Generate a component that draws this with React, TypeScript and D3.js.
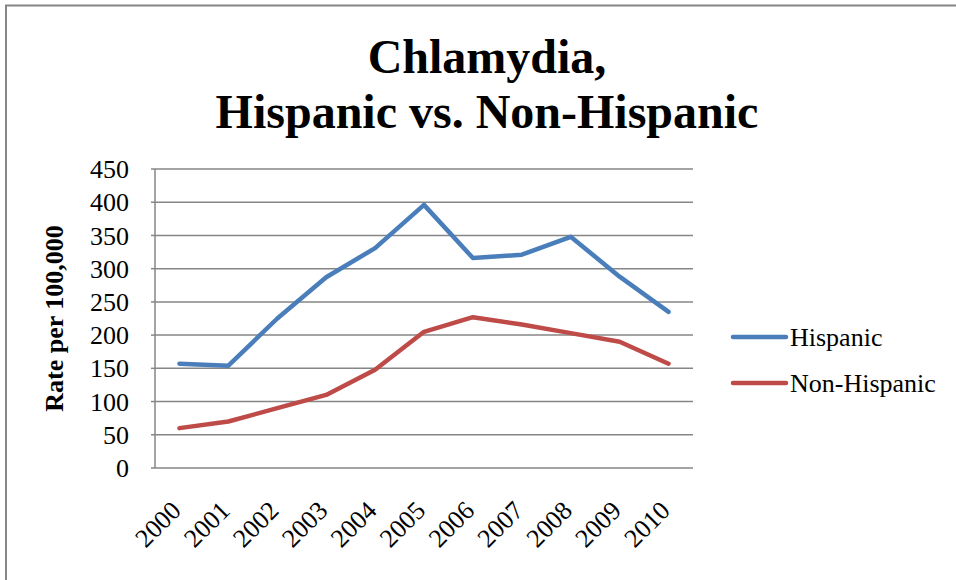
import React from "react";
import * as d3 from "d3";

const years = ["2000", "2001", "2002", "2003", "2004", "2005", "2006", "2007", "2008", "2009", "2010"];
const hispanic = [157, 154, 225, 287, 331, 396, 316, 321, 348, 288, 235];
const nonHispanic = [60, 70, 90, 110, 148, 205, 227, 216, 203, 190, 157];
const yTicks = [0, 50, 100, 150, 200, 250, 300, 350, 400, 450];

const seriesList = [
  { name: "Hispanic", values: hispanic, color: "#4A7EBB" },
  { name: "Non-Hispanic", values: nonHispanic, color: "#BE4B48" },
];

const W = 956;
const H = 580;
const plot = { left: 155, right: 693, top: 169, bottom: 468 };
const FONT = "'Liberation Serif', 'Times New Roman', serif";

export default function App() {
  const x = d3.scaleBand<string>().domain(years).range([plot.left, plot.right]);
  const y = d3.scaleLinear().domain([0, 450]).range([plot.bottom, plot.top]);
  const cx = (yr: string) => (x(yr) ?? 0) + x.bandwidth() / 2;

  const line = d3
    .line<number>()
    .x((_, i) => cx(years[i]))
    .y((d) => y(d));

  return (
    <svg
      width={W}
      height={H}
      style={{ position: "absolute", left: 0, top: 0, background: "#fff" }}
      fontFamily={FONT}
    >
      {/* chart frame */}
      <rect x={6} y={5.5} width={W + 20} height={H + 20} fill="none" stroke="#868686" strokeWidth={2} />

      {/* title */}
      <text x={487} y={73} textAnchor="middle" fontSize={48} fontWeight="bold">
        Chlamydia,
      </text>
      <text x={487} y={128} textAnchor="middle" fontSize={48} fontWeight="bold">
        Hispanic vs. Non-Hispanic
      </text>

      {/* gridlines and value labels */}
      {yTicks.map((t) => (
        <g key={t}>
          {t > 0 && (
            <line x1={plot.left} x2={plot.right} y1={y(t)} y2={y(t)} stroke="#868686" strokeWidth={1.5} />
          )}
          <line x1={plot.left - 4} x2={plot.left} y1={y(t)} y2={y(t)} stroke="#868686" strokeWidth={1.5} />
          <text x={129} y={y(t)} dy="0.35em" textAnchor="end" fontSize={26}>
            {t}
          </text>
        </g>
      ))}

      {/* axes */}
      <line x1={plot.left} x2={plot.left} y1={plot.top} y2={plot.bottom} stroke="#868686" strokeWidth={1.5} />
      <line x1={plot.left} x2={plot.right} y1={plot.bottom} y2={plot.bottom} stroke="#868686" strokeWidth={1.5} />

      {/* y axis title */}
      <text
        transform={`translate(63, ${(plot.top + plot.bottom) / 2}) rotate(-90)`}
        textAnchor="middle"
        fontSize={26}
        fontWeight="bold"
      >
        Rate per 100,000
      </text>

      {/* category labels */}
      {years.map((yr) => (
        <text
          key={yr}
          transform={`translate(${cx(yr) + 3}, 512) rotate(-45)`}
          textAnchor="end"
          fontSize={26}
        >
          {yr}
        </text>
      ))}

      {/* series lines */}
      {seriesList.map((s) => (
        <path
          key={s.name}
          d={line(s.values) ?? ""}
          fill="none"
          stroke={s.color}
          strokeWidth={4.5}
          strokeLinejoin="round"
          strokeLinecap="round"
        />
      ))}

      {/* legend */}
      {seriesList.map((s, i) => (
        <g key={s.name} transform={`translate(0, ${337 + i * 46})`}>
          <line x1={733} x2={786} y1={0} y2={0} stroke={s.color} strokeWidth={4.5} strokeLinecap="round" />
          <text x={790} y={0} dy="0.35em" fontSize={26}>
            {s.name}
          </text>
        </g>
      ))}
    </svg>
  );
}
